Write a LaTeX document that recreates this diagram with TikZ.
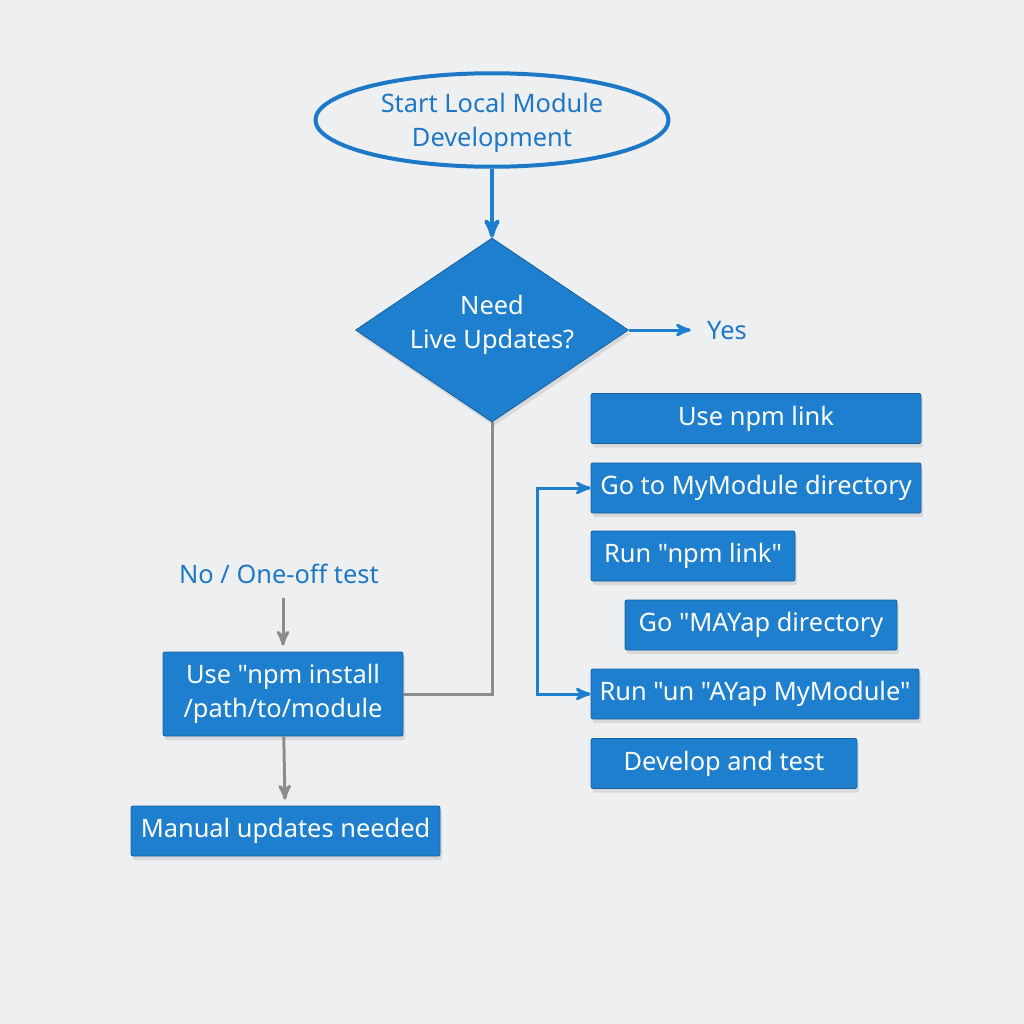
\documentclass[tikz,border=0pt]{standalone}
\usepackage{fontspec}
\newfontfamily\flowfont{Noto Sans}
\usetikzlibrary{shapes.geometric}
\usetikzlibrary{positioning}
\usetikzlibrary{arrows}
\usetikzlibrary{shadows}
\definecolor{flowblue}{HTML}{1F7FCF}
\definecolor{flowedge}{HTML}{17609F}
\definecolor{flowtext}{HTML}{1E78C8}
\definecolor{flowgray}{HTML}{8C8C8C}
\definecolor{paper}{HTML}{EEEFF0}
\tikzset{x=0.5pt, y=-0.5pt,        % one unit is one pixel of the layout
    startnode/.style={             % Start ellipse
        ellipse, draw=flowtext, line width=2pt, fill=paper,
        text=flowtext, inner sep=0pt, align=center,
        minimum width=176.5pt, minimum height=42pt,
        font=\flowfont\fontsize{12.7}{17}\selectfont},
    decision/.style={              % Question diamond
        diamond, aspect=1.5, draw=flowedge, fill=flowblue, text=white,
        inner sep=0pt, align=center,
        minimum width=136.5pt, minimum height=92pt,
        drop shadow={opacity=0.2, shadow xshift=1pt, shadow yshift=-2pt},
        font=\flowfont\fontsize{12.7}{17}\selectfont},
    stepbox/.style={               % Blue step boxes
        rectangle, rounded corners=1pt, draw=flowedge, fill=flowblue,
        text=white, inner sep=0pt, align=center, minimum height=25pt,
        drop shadow={opacity=0.2, shadow xshift=1pt, shadow yshift=-2pt},
        font=\flowfont\fontsize{12.7}{17}\selectfont},
    note/.style={                  % Blue branch labels
        text=flowtext, inner sep=1pt,
        font=\flowfont\fontsize{12.7}{14}\selectfont},
    bluearrow/.style={draw=flowblue, line width=1.6pt, ->, >=stealth'},
    grayarrow/.style={draw=flowgray, line width=1.5pt, ->, >=stealth'}}

\begin{document}
\begin{tikzpicture}
    \fill[paper] (0,0) rectangle (1024,1024);
    \useasboundingbox (0,0) rectangle (1024,1024);

    \node[startnode] (start) at (492,120) {\rule{0pt}{13pt}Start Local Module\\Development};
    \node[decision] (decide) at (492,330) {Need\\Live Updates?\rule[-8pt]{0pt}{0pt}};
    \node[note] (yes) at (727,331) {Yes};
    \node[note] (no) at (279,574) {No / One-off test};

    % left branch
    \node[stepbox, minimum width=120pt, minimum height=42pt] (install) at (283,694)
        {Use "npm install\\/path/to/module};
    \node[stepbox, minimum width=154.5pt] (manual) at (285.5,831) {Manual updates needed};

    % right branch
    \node[stepbox, minimum width=165pt] (uselink) at (756,418.5) {Use npm link};
    \node[stepbox, minimum width=165pt] (gomodule) at (756,488) {Go to MyModule directory};
    \node[stepbox, minimum width=102pt] (runlink) at (693,556) {Run "npm link"};
    \node[stepbox, minimum width=136pt] (goapp) at (761,625) {Go "MAYap directory};
    \node[stepbox, minimum width=164pt] (runapp) at (755,694) {Run "un "AYap MyModule"};
    \node[stepbox, minimum width=133pt] (develop) at (724,763.5) {Develop and test};

    \draw[bluearrow, line width=2pt] (start) -- (decide);
    \draw[bluearrow, line width=1.5pt, shorten >=7pt] (decide.east) -- (decide.east -| yes.west);
    \draw[grayarrow, -] (decide.south) |- (install.east);
    \draw[grayarrow, shorten <=6pt, shorten >=3pt] (install.north |- no.south) -- (install.north);
    \draw[grayarrow, shorten >=3pt] (install) -- (manual);
    \draw[bluearrow, line width=1.5pt, <->] (gomodule.west) -- ++(-53,0) |- (runapp.west);
\end{tikzpicture}
\end{document}
